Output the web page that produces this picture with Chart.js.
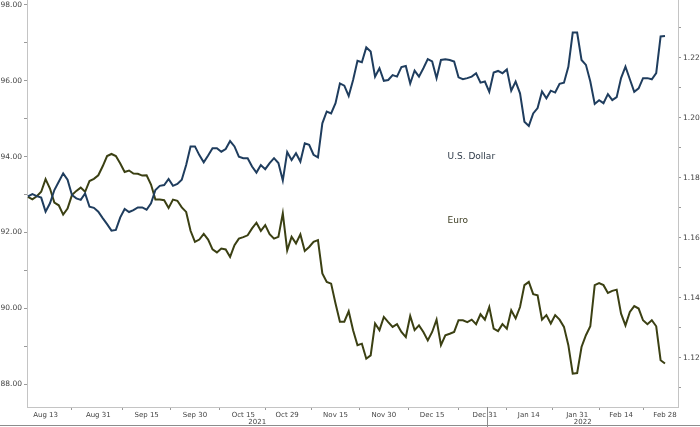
<!DOCTYPE html>
<html>
<head>
<meta charset="utf-8">
<script src="https://cdn.jsdelivr.net/npm/chart.js@4/dist/chart.umd.min.js"></script>
<style>
  html, body { margin: 0; padding: 0; background: #fff; }
  #wrap { width: 700px; height: 427px; position: relative; }
</style>
</head>
<body>
<div id="wrap"><canvas id="fx" width="700" height="427"></canvas></div>
<script>
// Daily closes, trading days Aug 9 2021 .. Feb 28 2022 (index 0..145)
const usd = [
  92.95, 93.01, 92.96, 92.92, 92.55, 92.77, 93.12, 93.34, 93.56, 93.39,
  92.99, 92.90, 92.86, 93.03, 92.68, 92.65, 92.55, 92.38, 92.22, 92.05,
  92.07, 92.40, 92.62, 92.54, 92.59, 92.66, 92.66, 92.60, 92.77, 93.12,
  93.23, 93.25, 93.41, 93.23, 93.28, 93.39, 93.78, 94.27, 94.27, 94.04,
  93.85, 94.03, 94.22, 94.22, 94.13, 94.20, 94.41, 94.27, 94.00, 93.96,
  93.96, 93.74, 93.58, 93.78, 93.67, 93.83, 93.96, 93.83, 93.37, 94.12,
  93.91, 94.09, 93.87, 94.35, 94.31, 94.05, 93.98, 94.88, 95.19, 95.14,
  95.41, 95.93, 95.87, 95.60, 96.02, 96.53, 96.49, 96.88, 96.77, 96.11,
  96.33, 96.00, 96.02, 96.15, 96.11, 96.36, 96.39, 95.93, 96.27, 96.11,
  96.33, 96.57, 96.51, 96.07, 96.55, 96.57, 96.55, 96.51, 96.09, 96.04,
  96.07, 96.11, 96.20, 95.95, 95.98, 95.71, 96.22, 96.26, 96.20, 96.30,
  95.74, 95.98, 95.67, 94.92, 94.81, 95.14, 95.28, 95.72, 95.54, 95.74,
  95.69, 95.92, 95.95, 96.37, 97.27, 97.27, 96.55, 96.42, 95.98, 95.39,
  95.49, 95.41, 95.65, 95.49, 95.57, 96.07, 96.37, 96.04, 95.71, 95.80,
  96.07, 96.07, 96.04, 96.20, 97.17, 97.18
];
const eur = [
  1.1736, 1.1728, 1.1738, 1.1753, 1.1795, 1.1764, 1.1717, 1.1708, 1.1677, 1.1697,
  1.1742, 1.1756, 1.1767, 1.1753, 1.1789, 1.1796, 1.1808, 1.1838, 1.1872, 1.1879,
  1.1872, 1.1847, 1.1819, 1.1824, 1.1814, 1.1813, 1.1807, 1.1808, 1.1777, 1.1727,
  1.1727, 1.1725, 1.1699, 1.1727, 1.1723, 1.1701, 1.1686, 1.1623, 1.1586, 1.1594,
  1.1613, 1.1594, 1.1561, 1.1551, 1.1564, 1.1561, 1.1536, 1.1575, 1.1597, 1.1602,
  1.1608, 1.1631, 1.1650, 1.1623, 1.1642, 1.1612, 1.1597, 1.1603, 1.1681, 1.1558,
  1.1603, 1.1581, 1.1611, 1.1556, 1.1569, 1.1586, 1.1592, 1.1481, 1.1453, 1.1447,
  1.1381, 1.1320, 1.1320, 1.1355, 1.1292, 1.1242, 1.1247, 1.1197, 1.1208, 1.1314,
  1.1292, 1.1336, 1.1319, 1.1303, 1.1312, 1.1286, 1.1269, 1.1339, 1.1292, 1.1308,
  1.1286, 1.1258, 1.1286, 1.1327, 1.1242, 1.1275, 1.1280, 1.1286, 1.1325, 1.1325,
  1.1319, 1.1327, 1.1312, 1.1345, 1.1327, 1.1369, 1.1297, 1.1289, 1.1312, 1.1297,
  1.1358, 1.1331, 1.1369, 1.1442, 1.1453, 1.1412, 1.1408, 1.1327, 1.1342, 1.1314,
  1.1342, 1.1327, 1.1303, 1.1242, 1.1147, 1.1149, 1.1236, 1.1275, 1.1305, 1.1442,
  1.1449, 1.1442, 1.1416, 1.1423, 1.1427, 1.1347, 1.1308, 1.1353, 1.1372, 1.1364,
  1.1325, 1.1312, 1.1325, 1.1305, 1.1192, 1.1181
];

// x axis: date labels and the trading-day index each sits on
const tickLabels = ['Aug 13', 'Aug 31', 'Sep 15', 'Sep 30', 'Oct 15', 'Oct 29', 'Nov 15',
                    'Nov 30', 'Dec 15', 'Dec 31', 'Jan 14', 'Jan 31', 'Feb 14', 'Feb 28'];
const tickIndex = [4, 16, 27, 38, 49, 59, 70, 81, 92, 104, 114, 125, 135, 145];
const yearLabels = ['2021', '2022'];
const yearBreak = 104.5;

const usdTicks = [88, 89, 90, 91, 92, 93, 94, 95, 96, 97, 98];
const eurTicks = [1.11, 1.12, 1.13, 1.14, 1.15, 1.16, 1.17, 1.18, 1.19, 1.20, 1.21, 1.22, 1.23];

const seriesNames = ['U.S. Dollar', 'Euro'];
const USD_COLOR = '#1f3d5e';
const EUR_COLOR = '#3b4013';
const TEXT = '#444';
const AXIS = '#c4c4c4';
const TICK = '#9a9a9a';

// minor x ticks halfway between labelled dates
const minorIndex = [];
for (let i = 1; i < tickIndex.length; i++) minorIndex.push((tickIndex[i - 1] + tickIndex[i]) / 2);
const xTicks = tickIndex.concat(minorIndex).sort((a, b) => a - b);

const font = (size) => ({ family: 'DejaVu Sans', size: size });

function zeroPad(scale) {
    scale.paddingTop = 0;
    scale.paddingBottom = 0;
    scale.paddingLeft = 0;
    scale.paddingRight = 0;
}

const labelsPlugin = {
    id: 'fxLabels',
    afterDatasetsDraw(chart) {
        const { ctx, scales } = chart;
        ctx.save();
        ctx.font = '9px "DejaVu Sans"';
        ctx.textBaseline = 'middle';
        ctx.textAlign = 'left';
        ctx.fillStyle = '#2e3a48';
        ctx.fillText(seriesNames[0], scales.x.getPixelForValue(95.5), scales.y.getPixelForValue(94.0));
        ctx.fillStyle = '#3c3c22';
        ctx.fillText(seriesNames[1], scales.x.getPixelForValue(95.5), scales.y1.getPixelForValue(1.1658));
        ctx.restore();
    },
    afterDraw(chart) {
        const { ctx, chartArea, scales } = chart;
        const sep = Math.round(scales.x.getPixelForValue(yearBreak)) + 0.5;
        ctx.save();
        ctx.strokeStyle = '#8c8c8c';
        ctx.lineWidth = 1;
        ctx.beginPath();
        ctx.moveTo(sep, chartArea.bottom);
        ctx.lineTo(sep, chart.height);
        ctx.moveTo(0, chart.height - 1.5);
        ctx.lineTo(chart.width, chart.height - 1.5);
        ctx.stroke();
        ctx.font = '7px "DejaVu Sans"';
        ctx.fillStyle = TEXT;
        ctx.textAlign = 'center';
        ctx.textBaseline = 'middle';
        ctx.fillText(yearLabels[0], (chartArea.left + sep) / 2, chart.height - 5);
        ctx.fillText(yearLabels[1], (sep + chartArea.right) / 2, chart.height - 5);
        ctx.restore();
    }
};

new Chart(document.getElementById('fx'), {
    type: 'line',
    data: {
        datasets: [
            {
                label: seriesNames[0],
                data: usd.map((v, i) => ({ x: i, y: v })),
                yAxisID: 'y',
                borderColor: USD_COLOR,
                borderWidth: 2,
                pointRadius: 0,
                tension: 0
            },
            {
                label: seriesNames[1],
                data: eur.map((v, i) => ({ x: i, y: v })),
                yAxisID: 'y1',
                borderColor: EUR_COLOR,
                borderWidth: 2,
                pointRadius: 0,
                tension: 0
            }
        ]
    },
    options: {
        responsive: false,
        animation: false,
        devicePixelRatio: 1,
        layout: { padding: 0 },
        plugins: { legend: { display: false }, tooltip: { enabled: false } },
        scales: {
            x: {
                type: 'linear',
                min: -0.23,
                max: 147.96,
                afterBuildTicks: (s) => { s.ticks = xTicks.map(v => ({ value: v })); },
                afterFit: (s) => { s.height = 20; zeroPad(s); },
                ticks: {
                    autoSkip: false,
                    maxRotation: 0,
                    padding: 1,
                    color: TEXT,
                    font: font(7),
                    callback: (v) => {
                        const k = tickIndex.indexOf(v);
                        return k >= 0 ? tickLabels[k] : '';
                    }
                },
                grid: {
                    drawOnChartArea: false,
                    tickLength: 3,
                    color: (c) => (c.tick && tickIndex.indexOf(c.tick.value) >= 0) ? 'rgba(0,0,0,0)' : TICK
                },
                border: { color: AXIS }
            },
            y: {
                position: 'left',
                min: 87.40,
                max: 98.13,
                afterBuildTicks: (s) => { s.ticks = usdTicks.map(v => ({ value: v })); },
                afterFit: (s) => { s.width = 27; zeroPad(s); },
                ticks: {
                    padding: 2,
                    color: TEXT,
                    font: font(7.5),
                    callback: (v) => (v % 2 === 0 ? v.toFixed(2) : '')
                },
                grid: { drawOnChartArea: false, tickLength: 3, color: TICK },
                border: { color: AXIS }
            },
            y1: {
                position: 'right',
                min: 1.1036,
                max: 1.2392,
                afterBuildTicks: (s) => { s.ticks = eurTicks.map(v => ({ value: v })); },
                afterFit: (s) => { s.width = 22; zeroPad(s); },
                ticks: {
                    padding: 2,
                    color: TEXT,
                    font: font(7.5),
                    callback: (v) => (Math.round(v * 100) % 2 === 0 ? v.toFixed(2) : '')
                },
                grid: { drawOnChartArea: false, tickLength: 3, color: TICK },
                border: { color: AXIS }
            }
        }
    },
    plugins: [labelsPlugin]
});
</script>
</body>
</html>
